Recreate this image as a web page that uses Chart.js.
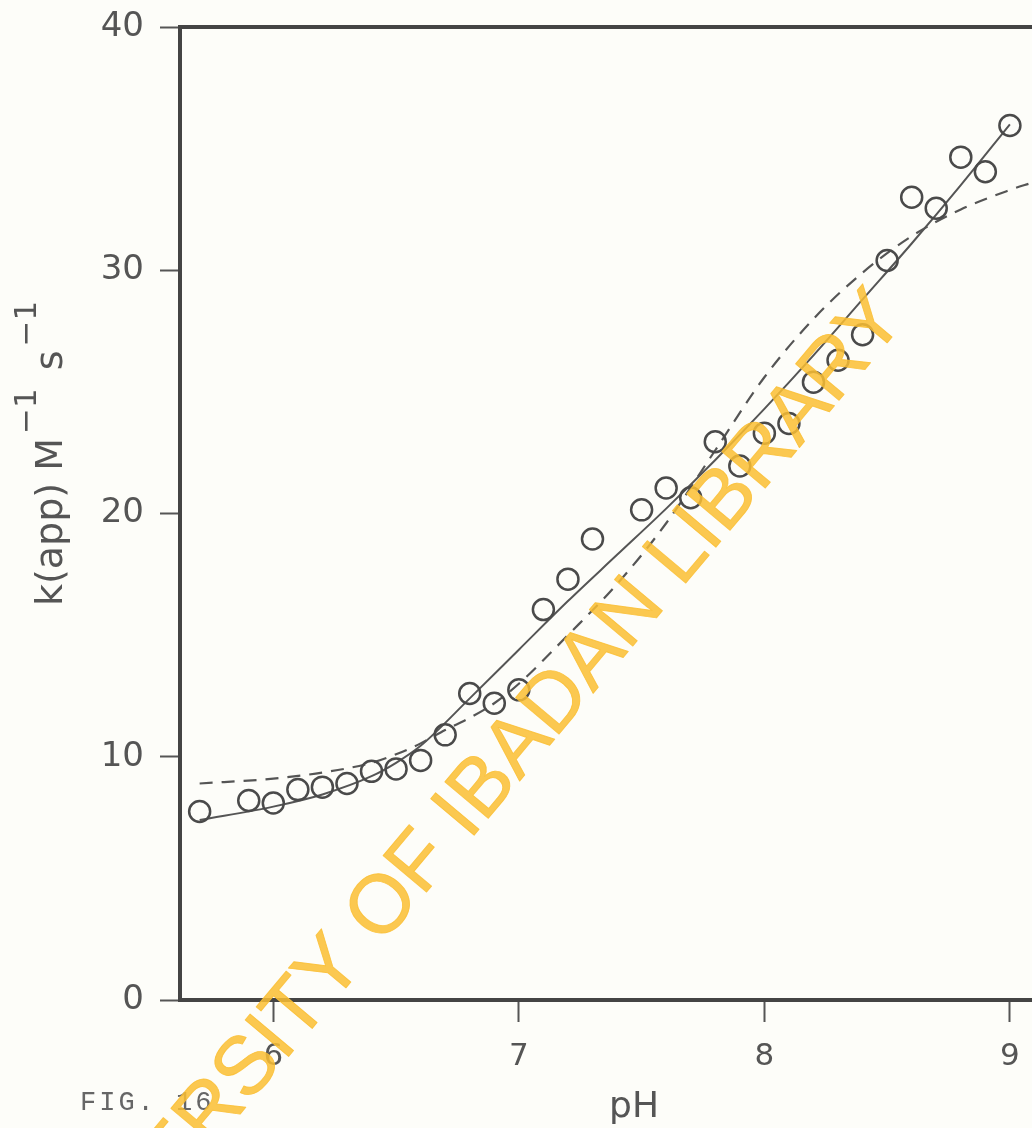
<!DOCTYPE html>
<html>
<head>
<meta charset="utf-8">
<title>FIG. 16 k(app) vs pH</title>
<script src="https://cdn.jsdelivr.net/npm/chart.js@4.4.1/dist/chart.umd.min.js"></script>
<style>
  html, body { margin: 0; padding: 0; background: #fdfdf9; }
  canvas { display: block; }
</style>
</head>
<body>
<canvas id="grafico" width="1032" height="1128"></canvas>
<script>
// measured points (open circles)
const phPoints = [5.7, 5.9, 6.0, 6.1, 6.2, 6.3, 6.4, 6.5, 6.6, 6.7, 6.8, 6.9, 7.0, 7.1, 7.2, 7.3,
                  7.5, 7.6, 7.7, 7.8, 7.9, 8.0, 8.1, 8.2, 8.3, 8.4, 8.5, 8.6, 8.7, 8.8, 8.9, 9.0];
const kPoints = [7.75, 8.2, 8.1, 8.65, 8.75, 8.9, 9.4, 9.5, 9.85, 10.9, 12.6, 12.2, 12.75, 16.05, 17.3, 18.95,
                 20.15, 21.05, 20.65, 22.95, 21.95, 23.3, 23.7, 25.4, 26.3, 27.35, 30.4, 33.0, 32.55, 34.65, 34.05, 35.95];

// solid curve
const solidPh = [5.7, 6.0, 6.2, 6.4, 6.5, 6.6, 6.8, 7.0, 7.2, 7.4, 7.6, 7.8, 8.0, 8.2, 8.4, 8.6, 8.8, 9.0];
const solidK = [7.4, 7.95, 8.45, 9.2, 9.75, 10.45, 12.4, 14.4, 16.4, 18.3, 20.2, 22.2, 24.3, 26.5, 28.8, 31.1, 33.5, 36.0];

// dashed curve
const dashPh = [5.7, 6.0, 6.2, 6.4, 6.5, 6.6, 6.7, 6.8, 6.9, 7.0, 7.2, 7.4, 7.6, 7.8, 8.0, 8.2, 8.4, 8.6, 8.8, 9.0, 9.09];
const dashK = [8.9, 9.1, 9.35, 9.75, 10.1, 10.55, 11.1, 11.6, 12.2, 13.0, 15.0, 17.1, 19.6, 22.6, 25.6, 28.0, 29.9, 31.4, 32.5, 33.3, 33.6];

const xTicks = [6, 7, 8, 9];
const yTicks = [0, 10, 20, 30, 40];

const ink = '#4a4a4a';

function pares(xs, ys) {
    return xs.map((x, i) => ({ x: x, y: ys[i] }));
}

// texts drawn by hand: y title with superscripts, pH, FIG. 16, top line, watermark
const extras = {
    id: 'extras',
    afterDraw(chart) {
        const ctx = chart.ctx;
        const area = chart.chartArea;
        ctx.save();

        // top border at k = 40
        ctx.strokeStyle = '#444';
        ctx.lineWidth = 4;
        ctx.beginPath();
        ctx.moveTo(area.left, area.top);
        ctx.lineTo(area.right, area.top);
        ctx.stroke();

        ctx.fillStyle = '#555';
        // y title
        ctx.save();
        ctx.translate(62, 606);
        ctx.rotate(-Math.PI / 2);
        ctx.textBaseline = 'alphabetic';
        ctx.textAlign = 'left';
        let x = 0;
        const big = '38px "DejaVu Sans"', small = '31px "DejaVu Sans"';
        const parts = [['k(app) M', big, 0, 4], ['\u22121', small, -26, 18], ['s', big, 0, 4], ['\u22121', small, -26, 0]];
        parts.forEach(p => {
            ctx.font = p[1];
            ctx.fillText(p[0], x, p[2]);
            x += ctx.measureText(p[0]).width + p[3];
        });
        ctx.restore();

        // x title
        ctx.font = '36px "DejaVu Sans"';
        ctx.textAlign = 'center';
        ctx.textBaseline = 'middle';
        ctx.fillText('pH', 634, 1108);

        // figure number
        ctx.font = '27px "Liberation Mono"';
        ctx.letterSpacing = '3px';
        ctx.textAlign = 'left';
        ctx.textBaseline = 'alphabetic';
        ctx.fillStyle = '#666';
        ctx.fillText('FIG. 16', 80, 1110);
        ctx.letterSpacing = '0px';

        // library watermark
        ctx.save();
        ctx.translate(210, 1150);
        ctx.rotate(-50 * Math.PI / 180);
        ctx.font = '90px "Liberation Sans"';
        const cut = ctx.measureText('UNIVE').width;
        const visible = ctx.measureText('RSITY OF IBADAN LIBRARY').width;
        const s = 1085 / visible;
        ctx.scale(s, s);
        ctx.fillStyle = 'rgba(250, 190, 50, 0.85)';
        ctx.strokeStyle = 'rgba(250, 190, 50, 0.85)';
        ctx.lineWidth = 1;
        ctx.lineJoin = 'round';
        ctx.textBaseline = 'alphabetic';
        ctx.fillText('UNIVERSITY OF IBADAN LIBRARY', -cut, 0);
        ctx.strokeText('UNIVERSITY OF IBADAN LIBRARY', -cut, 0);
        ctx.restore();

        ctx.restore();
    }
};

const ctx = document.getElementById('grafico').getContext('2d');
new Chart(ctx, {
    type: 'scatter',
    data: {
        datasets: [
            {
                label: 'k(app)',
                data: pares(phPoints, kPoints),
                showLine: false,
                pointStyle: 'circle',
                pointRadius: 10.5,
                pointBorderWidth: 2.5,
                pointBorderColor: ink,
                pointBackgroundColor: 'rgba(0,0,0,0)',
                borderColor: ink
            },
            {
                label: 'ajuste',
                data: pares(solidPh, solidK),
                showLine: true,
                borderColor: '#555',
                borderWidth: 2,
                pointRadius: 0,
                cubicInterpolationMode: 'monotone'
            },
            {
                label: 'modelo',
                data: pares(dashPh, dashK),
                showLine: true,
                borderColor: '#555',
                borderWidth: 2.2,
                borderDash: [13, 9],
                pointRadius: 0,
                cubicInterpolationMode: 'monotone'
            }
        ]
    },
    options: {
        responsive: false,
        animation: false,
        layout: { autoPadding: false, padding: { top: 27, right: 0, left: 0, bottom: 0 } },
        plugins: {
            legend: { display: false },
            tooltip: { enabled: false }
        },
        scales: {
            x: {
                type: 'linear',
                min: 5.62,
                max: 9.09,
                afterBuildTicks: s => { s.ticks = xTicks.map(v => ({ value: v })); },
                afterFit: s => { s.height = 128; s.paddingLeft = 0; s.paddingRight = 0; },
                grid: { drawOnChartArea: false, tickLength: 22, tickWidth: 2, tickColor: '#555' },
                border: { color: '#444', width: 4 },
                ticks: { font: { family: 'DejaVu Sans', size: 31 }, color: '#555', padding: 16 }
            },
            y: {
                type: 'linear',
                min: 0,
                max: 40,
                afterBuildTicks: s => { s.ticks = yTicks.map(v => ({ value: v })); },
                afterFit: s => { s.width = 180; s.paddingTop = 0; s.paddingBottom = 0; },
                grid: { drawOnChartArea: false, tickLength: 20, tickWidth: 2, tickColor: '#555' },
                border: { color: '#444', width: 4 },
                ticks: { font: { family: 'DejaVu Sans', size: 34 }, color: '#555', padding: 16 }
            }
        }
    },
    plugins: [extras]
});
</script>
</body>
</html>
